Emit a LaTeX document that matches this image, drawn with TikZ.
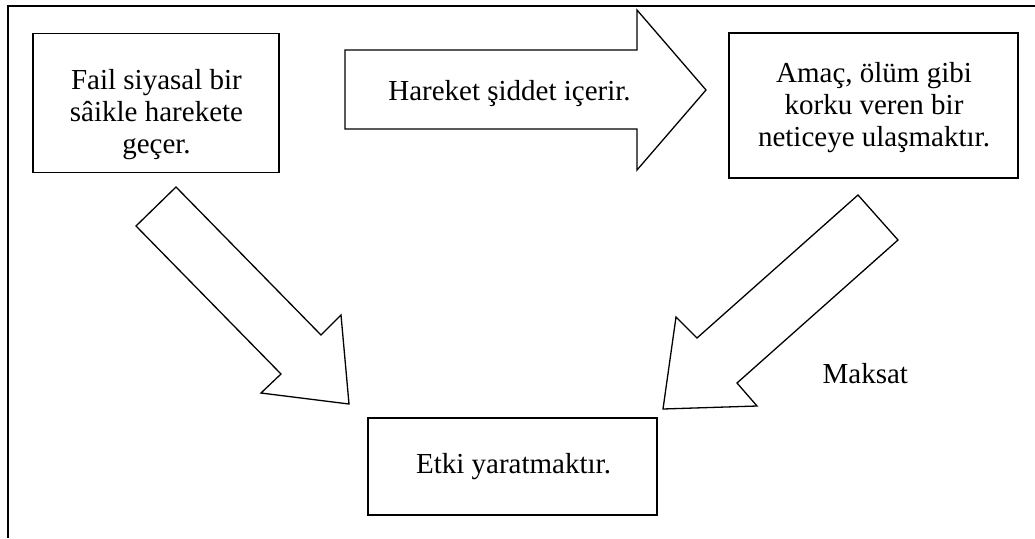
\documentclass[tikz,border=0pt]{standalone}
\usepackage{fontspec}
\setmainfont{Liberation Serif}
\begin{document}
\begin{tikzpicture}[x=1pt,y=-1pt,line width=1.3pt,line join=miter,
  txt/.style={font=\fontsize{29}{32}\selectfont,align=center,inner sep=0pt},
  box/.style={draw,inner sep=0pt}]
\useasboundingbox (0,0) rectangle (1035,538);
% outer frame (top and left only)
\draw (8,538) -- (8,6) -- (1035,6);
% boxes
\node[box,minimum width=246pt,minimum height=139pt] (fail) at (156,103) {};
\node[txt,anchor=base] (failtext) at (156.5,153)
  {Fail siyasal bir\\sâikle harekete\\geçer.};
\node[box,minimum width=289pt,minimum height=145pt] (amac) at (873.5,105.5) {};
\node[txt,anchor=base] (amactext) at (874,146)
  {Amaç, ölüm gibi\\korku veren bir\\neticeye ulaşmaktır.};
\node[box,minimum width=289pt,minimum height=97pt] (etki) at (512.5,466.5) {};
\node[txt,anchor=base] (etkitext) at (513.5,473) {Etki yaratmaktır.};
% horizontal block arrow
\draw (345,50) -- (637,50) -- (637,10) -- (706,90) -- (637,170) -- (637,129) -- (345,129) -- cycle;
\node[txt,anchor=base] (hareket) at (509.5,100) {Hareket şiddet içerir.};
% left diagonal block arrow
\draw (176,187) -- (321,335) -- (341,315) -- (349,404) -- (261,393) -- (281,374) -- (136,226) -- cycle;
% right diagonal block arrow
\draw (858,195) -- (898,240) -- (737,383) -- (757,406) -- (663,409) -- (676,317) -- (697,338) -- cycle;
\node[txt,anchor=base west] (maksat) at (822,383) {Maksat};
\end{tikzpicture}
\end{document}
